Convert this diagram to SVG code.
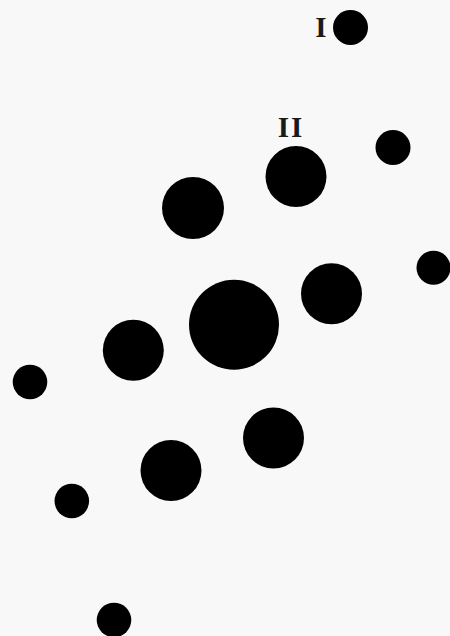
<svg xmlns="http://www.w3.org/2000/svg" width="450" height="636" viewBox="0 0 450 636">
<style>
.bg{fill:#f8f8f8}
.s{fill:#000}
.lbl{font-family:"Liberation Serif",serif;font-weight:bold;font-size:29px;fill:#1a1a1a}
</style>
<rect class="bg" x="0" y="0" width="450" height="636"/>
<g id="labels">
<text id="label-I" class="lbl" x="321" y="37" text-anchor="middle">I</text>
<text id="label-II" class="lbl" x="291" y="137" text-anchor="middle" letter-spacing="2">II</text>
</g>
<g id="c1"><circle class="s" cx="350.5" cy="27.5" r="17.5"/></g>
<g id="c2"><circle class="s" cx="393" cy="147.5" r="17.5"/></g>
<g id="c3"><circle class="s" cx="296" cy="176.5" r="30.5"/></g>
<g id="c4"><circle class="s" cx="193" cy="208" r="31"/></g>
<g id="c5"><circle class="s" cx="433.5" cy="267.7" r="17"/></g>
<g id="c6"><circle class="s" cx="331.5" cy="293.7" r="30.5"/></g>
<g id="c7"><circle class="s" cx="234" cy="324.7" r="45"/></g>
<g id="c8"><circle class="s" cx="133.3" cy="350.3" r="30.5"/></g>
<g id="c9"><circle class="s" cx="30" cy="382" r="17.3"/></g>
<g id="c10"><circle class="s" cx="273.5" cy="438" r="30.5"/></g>
<g id="c11"><circle class="s" cx="171" cy="470.5" r="30.5"/></g>
<g id="c12"><circle class="s" cx="71.8" cy="501" r="17.3"/></g>
<g id="c13"><circle class="s" cx="114" cy="620" r="17.3"/></g>
</svg>
